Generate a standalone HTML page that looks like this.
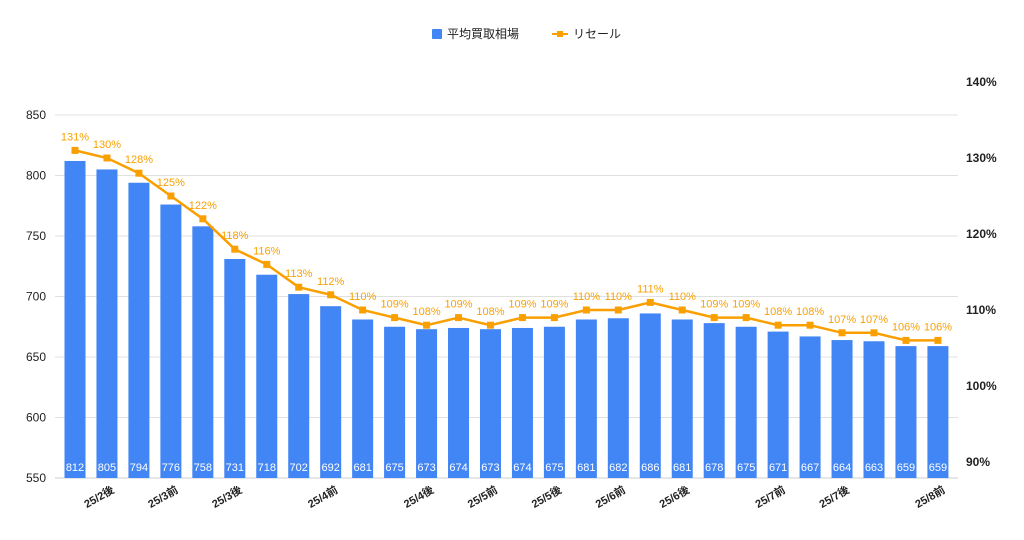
<!DOCTYPE html>
<html><head><meta charset="utf-8"><style>
body{margin:0;background:#fff;font-family:"Liberation Sans","Noto Sans CJK JP",sans-serif}
</style></head><body>
<svg id="chart" width="1024" height="535" xmlns="http://www.w3.org/2000/svg" font-family="Liberation Sans, Noto Sans CJK JP, sans-serif">
<g>
<rect x="432" y="29" width="10" height="10" rx="1" fill="#4285f4"/>
<text x="447" y="38" font-size="12" fill="#222">平均買取相場</text>
<line x1="552" y1="34" x2="568" y2="34" stroke="#f9a000" stroke-width="2"/>
<rect x="557" y="31" width="6" height="6" fill="#f9a000"/>
<text x="573" y="38" font-size="12" fill="#222">リセール</text>
</g>
<g id="grid"></g><g id="bars"></g><g id="line"></g><g id="axes"></g>
</svg>
<script>
const categories=["25/2前","25/2後","25/3前a","25/3前","25/3後a","25/3後","25/3後b","25/4前a","25/4前","25/4前b","25/4後a","25/4後","25/5前a","25/5前","25/5後a","25/5後","25/6前a","25/6前","25/6後a","25/6後","25/6後b","25/7前a","25/7前","25/7後a","25/7後","25/7後b","25/8前a","25/8前"];
const shownLabels=["","25/2後","","25/3前","","25/3後","","","25/4前","","","25/4後","","25/5前","","25/5後","","25/6前","","25/6後","","","25/7前","","25/7後","","","25/8前"];
const prices=[812,805,794,776,758,731,718,702,692,681,675,673,674,673,674,675,681,682,686,681,678,675,671,667,664,663,659,659];
const resale=[131,130,128,125,122,118,116,113,112,110,109,108,109,108,109,109,110,110,111,110,109,109,108,108,107,107,106,106];
const leftTicks=[550,600,650,700,750,800,850];
const rightTicks=[90,100,110,120,130,140];
const NS="http://www.w3.org/2000/svg";
const yL=v=>478-(v-550)*60.5/50;
const yR=v=>462-(v-90)*7.6;
const xC=i=>75+i*31.96;
function mk(tag,attrs,parent,text){const e=document.createElementNS(NS,tag);for(const k in attrs)e.setAttribute(k,attrs[k]);if(text!==undefined)e.textContent=text;document.getElementById(parent).appendChild(e);return e;}
leftTicks.forEach(t=>{
 const g=mk('line',{x1:55,x2:958,y1:yL(t),y2:yL(t),stroke:t===550?'#ccc':'#e0e0e0','stroke-width':1},'grid');
 
 
 const l=mk('text',{x:46,y:yL(t)+4,'font-size':12,'text-anchor':'end',fill:'#222'},'axes',String(t));
 
 
});
rightTicks.forEach(t=>{
 const l=mk('text',{x:966,y:yR(t)+4,'font-size':12,fill:'#222','font-weight':'bold'},'axes',t+'%');
 
 
});
prices.forEach((v,i)=>{
 const r=mk('rect',{x:xC(i)-10.5,y:yL(v),width:21,height:478-yL(v),fill:'#4285f4'},'bars');
 
 
 const t=mk('text',{x:xC(i),y:471,'font-size':11,'text-anchor':'middle',fill:'#fff'},'bars',String(v));
 
 
 if(shownLabels[i]){
  const lb=mk('text',{x:xC(i)+8,y:492,'font-size':11,'text-anchor':'end',fill:'#222','font-weight':'bold',transform:`rotate(-30 ${xC(i)+8} 492)`},'axes',shownLabels[i]);
  
  
 }
});
const pl=mk('polyline',{points:resale.map((v,i)=>xC(i)+','+yR(v)).join(' '),fill:'none',stroke:'#f9a000','stroke-width':2.5},'line');


resale.forEach((v,i)=>{
 const m=mk('rect',{x:xC(i)-3.5,y:yR(v)-3.5,width:7,height:7,fill:'#f9a000'},'line');
 
 
 const t=mk('text',{x:xC(i),y:yR(v)-10,'font-size':11,'text-anchor':'middle',fill:'#f9a000'},'line',v+'%');
 
 
});
</script>
</body></html>
